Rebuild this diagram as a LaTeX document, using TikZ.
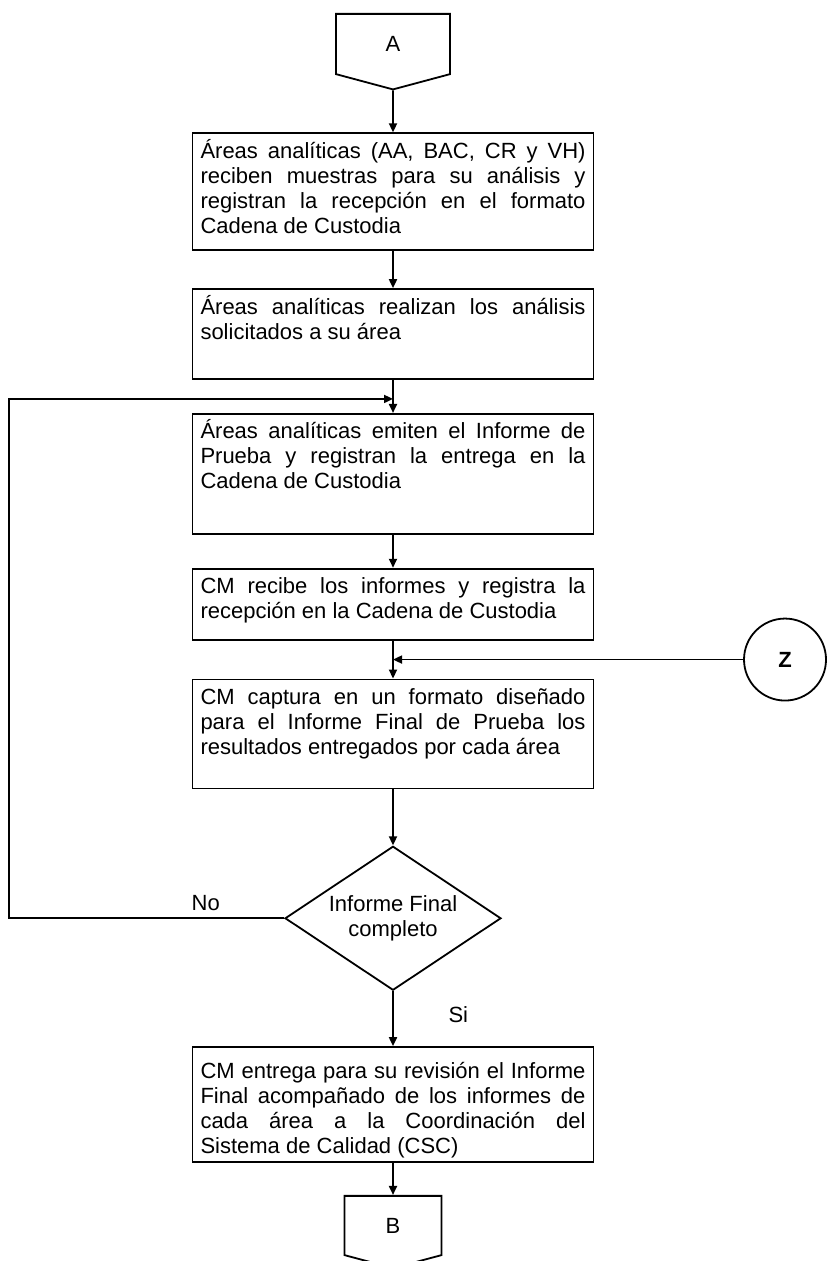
\documentclass[tikz,border=0pt]{standalone}
\usepackage{fontspec}
\setmainfont{Liberation Sans}
\usetikzlibrary{arrows.meta, positioning, shapes.geometric, shapes.symbols, calc}

\begin{document}
\begin{tikzpicture}[
    x = 0.5pt, y = -0.5pt,
    line width = 0.9pt,
    font = \fontsize{11}{12.5}\selectfont,
    punkt/.style = {rectangle, draw, text width=192.5pt, align=justify,
                    inner xsep=4pt, inner ysep=4pt, text height=8.5pt},
    conector/.style = {signal, signal to=south, signal pointer angle=150,
                       draw, minimum height=32pt, anchor=north},
    rombo/.style = {diamond, draw, aspect=1.5, inner sep=0pt, align=center,
                    minimum width=108pt, minimum height=72pt},
    circulo/.style = {circle, draw, minimum size=41pt, font=\fontsize{11}{12.5}\selectfont\bfseries},
    pil/.style = {black, -{Triangle[length=4.5pt, width=4pt]}}
    ]
    \useasboundingbox (0,0) rectangle (826,1261);
    %nodes
    \node[conector, minimum width=57pt] (A) at (393,13) {A};
    \node[punkt, text depth=42pt] (b1) [below=21pt of A]
        {Áreas analíticas (AA, BAC, CR y VH)\linebreak reciben muestras para su análisis y\linebreak registran la recepción en el formato\linebreak Cadena de Custodia};
    \node[punkt, text depth=28.5pt] (b2) [below=18.5pt of b1]
        {Áreas analíticas realizan los análisis\linebreak solicitados a su área};
    \node[punkt, text depth=43.5pt] (b3) [below=16.5pt of b2]
        {Áreas analíticas emiten el Informe de\linebreak Prueba y registran la entrega en la\linebreak Cadena de Custodia};
    \node[punkt, text depth=19pt] (b4) [below=16.5pt of b3]
        {CM recibe los informes y registra la\linebreak recepción en la Cadena de Custodia};
    \node[punkt, text depth=38pt] (b5) [below=19pt of b4]
        {CM captura en un formato diseñado\linebreak para el Informe Final de Prueba los\linebreak resultados entregados por cada área};
    \node[rombo] (d) [below=28pt of b5] {Informe Final\\completo};
    \node[punkt, text height=11.5pt, text depth=38pt] (b6) [below=27.5pt of d]
        {CM entrega para su revisión el Informe\linebreak Final acompañado de los informes de\linebreak cada área a la Coordinación del\linebreak Sistema de Calidad (CSC)};
    \node[conector, minimum width=48.5pt, minimum height=31.5pt] (B) [below=16pt of b6] {B};

    % loop points
    \coordinate (izq) at (9,0);
    \coordinate (zx) at (785,0);
    \coordinate (fb) at ([yshift=-9.5pt]b2.south);
    \coordinate (zc) at ($(b4.south)!0.5!(b5.north)$);
    \node[circulo] (z) at (zc -| zx) {Z};

    % edges
    \draw[pil] (A) edge (b1)
    (b1) edge (b2)
    (b2) edge (b3)
    (b3) edge (b4)
    (b4) edge (b5)
    (b5) edge (d)
    (b6) edge (B);
    \draw[pil] (d) -- node[pos=0.42, right=24pt] {Si} (b6);
    \draw[pil] (d.west) -- node[pos=0.285, above] {No} (d.west -| izq) |- (fb);
    \draw[pil] (z) -- (z -| b5.north);
\end{tikzpicture}
\end{document}
